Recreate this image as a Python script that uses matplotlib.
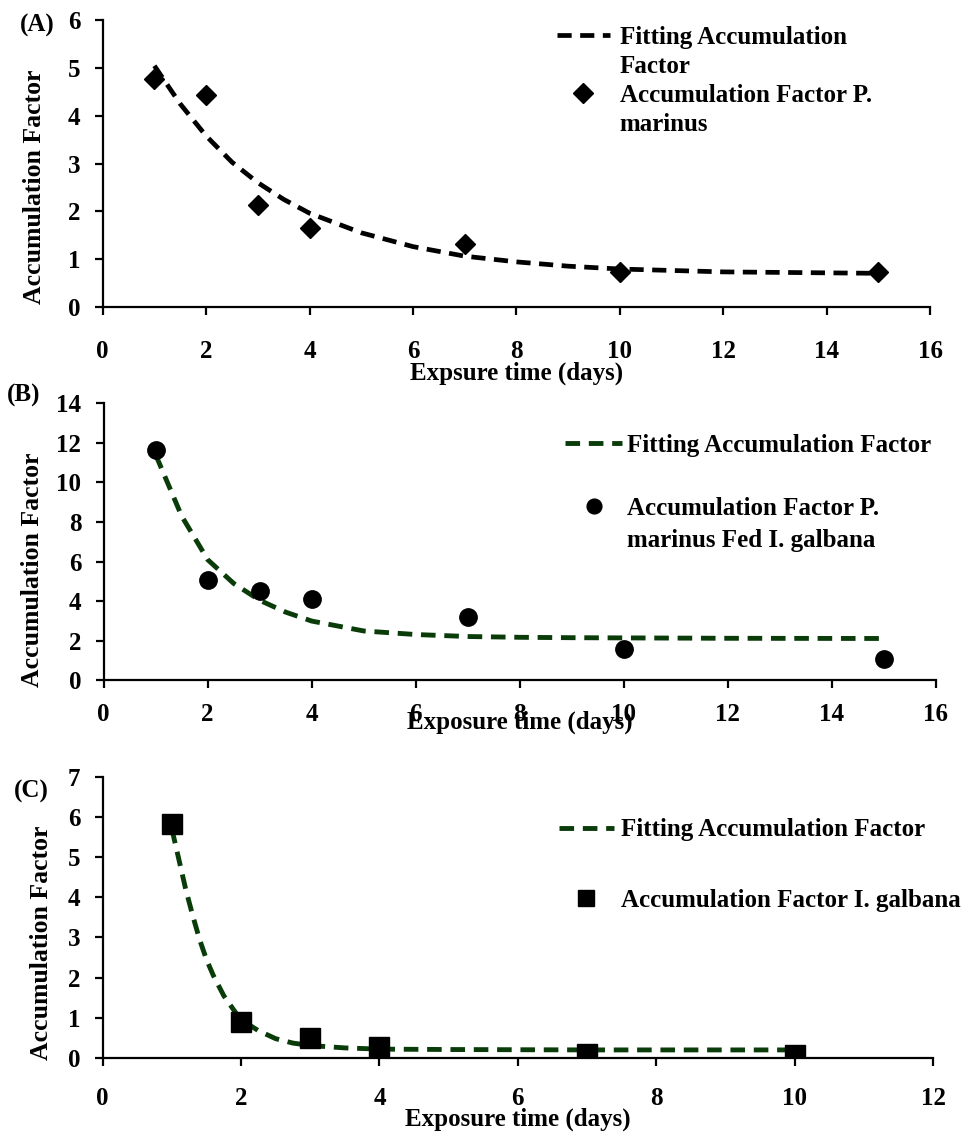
import matplotlib
matplotlib.use("Agg")
import matplotlib.pyplot as plt
from matplotlib.lines import Line2D

plt.rcParams['font.family'] = ['Liberation Serif', 'DejaVu Serif']
plt.rcParams['font.weight'] = 'bold'

GREEN = '#0a3c0a'

# panel A: P. marinus
daysA = [1, 2, 3, 4, 7, 10, 15]
afA = [4.78, 4.43, 2.14, 1.65, 1.32, 0.72, 0.72]
fitXA = [1, 1.5, 2, 2.5, 3, 3.5, 4, 5, 6, 7, 8, 9, 10, 11, 12, 13, 14, 15]
fitYA = [5.05, 4.25, 3.58, 3.03, 2.6, 2.25, 1.96, 1.55, 1.26, 1.06, 0.94, 0.85, 0.79, 0.76, 0.73, 0.72, 0.71, 0.70]
labelsA = ['Fitting Accumulation', 'Factor', 'Accumulation Factor P.', 'marinus']

# panel B: P. marinus fed I. galbana
daysB = [1, 2, 3, 4, 7, 10, 15]
afB = [11.65, 5.08, 4.54, 4.11, 3.2, 1.6, 1.08]
fitXB = [1, 1.5, 2, 2.5, 3, 3.5, 4, 5, 6, 7, 8, 9, 10, 12, 15]
fitYB = [11.4, 8.3, 6.1, 4.9, 4.05, 3.45, 3.0, 2.5, 2.32, 2.22, 2.18, 2.16, 2.15, 2.13, 2.12]
labelsB = ['Fitting Accumulation Factor', '', 'Accumulation Factor P.', 'marinus Fed I. galbana']

# panel C: I. galbana
daysC = [1, 2, 3, 4, 7, 10]
afC = [5.83, 0.89, 0.5, 0.27, 0.11, 0.07]
fitXC = [1, 1.1, 1.2, 1.3, 1.4, 1.5, 1.6, 1.75, 1.9, 2, 2.25, 2.5, 2.75, 3, 3.5, 4, 5, 7, 10]
fitYC = [5.7, 4.95, 4.2, 3.55, 2.95, 2.45, 2.05, 1.55, 1.18, 0.95, 0.68, 0.48, 0.37, 0.31, 0.25, 0.22, 0.21, 0.2, 0.2]
labelsC = ['Fitting Accumulation Factor', 'Accumulation Factor I. galbana']

FS = 18


def style_axes(ax, xmax, ymax, ystep, xpad=18, ylab=(-0.07, 0.41)):
    for s in ['top', 'right']:
        ax.spines[s].set_visible(False)
    for s in ['left', 'bottom']:
        ax.spines[s].set_linewidth(1.6)
    ax.set_xlim(0, xmax)
    ax.set_ylim(0, ymax)
    ax.set_xticks(range(0, xmax + 1, 2))
    ax.set_yticks(range(0, ymax + 1, ystep))
    ax.tick_params(axis='x', direction='out', length=6, width=1.6, pad=xpad, labelsize=FS)
    ax.tick_params(axis='y', direction='out', length=6, width=1.6, pad=10, labelsize=FS)
    ax.set_ylabel('Accumulation Factor', fontsize=18.5, fontweight='bold')
    ax.yaxis.set_label_coords(*ylab)


def blank():
    return Line2D([], [], ls='none', marker='none')


fig = plt.figure(figsize=(9.78, 11.36), dpi=100)

# (A)
ax1 = fig.add_axes([0.105, 0.730, 0.846, 0.252])
fitA, = ax1.plot(fitXA, fitYA, '--', color='black', lw=3.4, dashes=(3, 1.8))
ptsA, = ax1.plot(daysA, afA, 'D', color='black', ms=10, ls='none')
style_axes(ax1, 16, 6, 1, ylab=(-0.068, 0.418))
ax1.set_xlabel('Expsure time (days)', fontsize=FS, fontweight='bold', labelpad=-1)
ax1.legend([fitA, blank(), ptsA, blank()], labelsA,
           loc='upper left', bbox_to_anchor=(0.522, 1.06), frameon=False,
           fontsize=FS, handlelength=2.1, handletextpad=0.4, labelspacing=0.24,
           markerscale=1.0)
fig.text(0.02, 0.978, '(A)', fontsize=FS, fontweight='bold', va='center')

# (B)
ax2 = fig.add_axes([0.106, 0.401, 0.851, 0.244])
fitB, = ax2.plot(fitXB, fitYB, '--', color=GREEN, lw=3.5, dashes=(3, 1.8))
ptsB, = ax2.plot(daysB, afB, 'o', color='black', ms=12.5, ls='none')
style_axes(ax2, 16, 14, 2, xpad=10, ylab=(-0.072, 0.40))
ax2.set_xlabel('Exposure time (days)', fontsize=FS, fontweight='bold', labelpad=-11)
ax2.legend([fitB, blank(), ptsB, blank()], labelsB,
           loc='upper left', bbox_to_anchor=(0.527, 0.97), frameon=False,
           fontsize=FS, handlelength=2.3, handletextpad=0.2, labelspacing=0.34,
           markerscale=0.85)
fig.text(0.007, 0.652, '(B)', fontsize=FS, fontweight='bold', va='center')

# (C)
ax3 = fig.add_axes([0.105, 0.0687, 0.849, 0.2475])
fitC, = ax3.plot(fitXC, fitYC, '--', color=GREEN, lw=3.5, dashes=(3, 1.8))
ptsC, = ax3.plot(daysC, afC, 's', color='black', ms=14, ls='none')
style_axes(ax3, 12, 7, 1, xpad=15, ylab=(-0.06, 0.41))
ax3.set_xlabel('Exposure time (days)', fontsize=FS, fontweight='bold', labelpad=-2)
ax3.legend([fitC, ptsC], labelsC,
           loc='upper left', bbox_to_anchor=(0.522, 0.932), frameon=False,
           fontsize=FS, handlelength=2.2, handletextpad=0.3, labelspacing=1.9,
           markerscale=0.8)
fig.text(0.014, 0.303, '(C)', fontsize=FS, fontweight='bold', va='center')

fig.savefig('out.png', dpi=100)
